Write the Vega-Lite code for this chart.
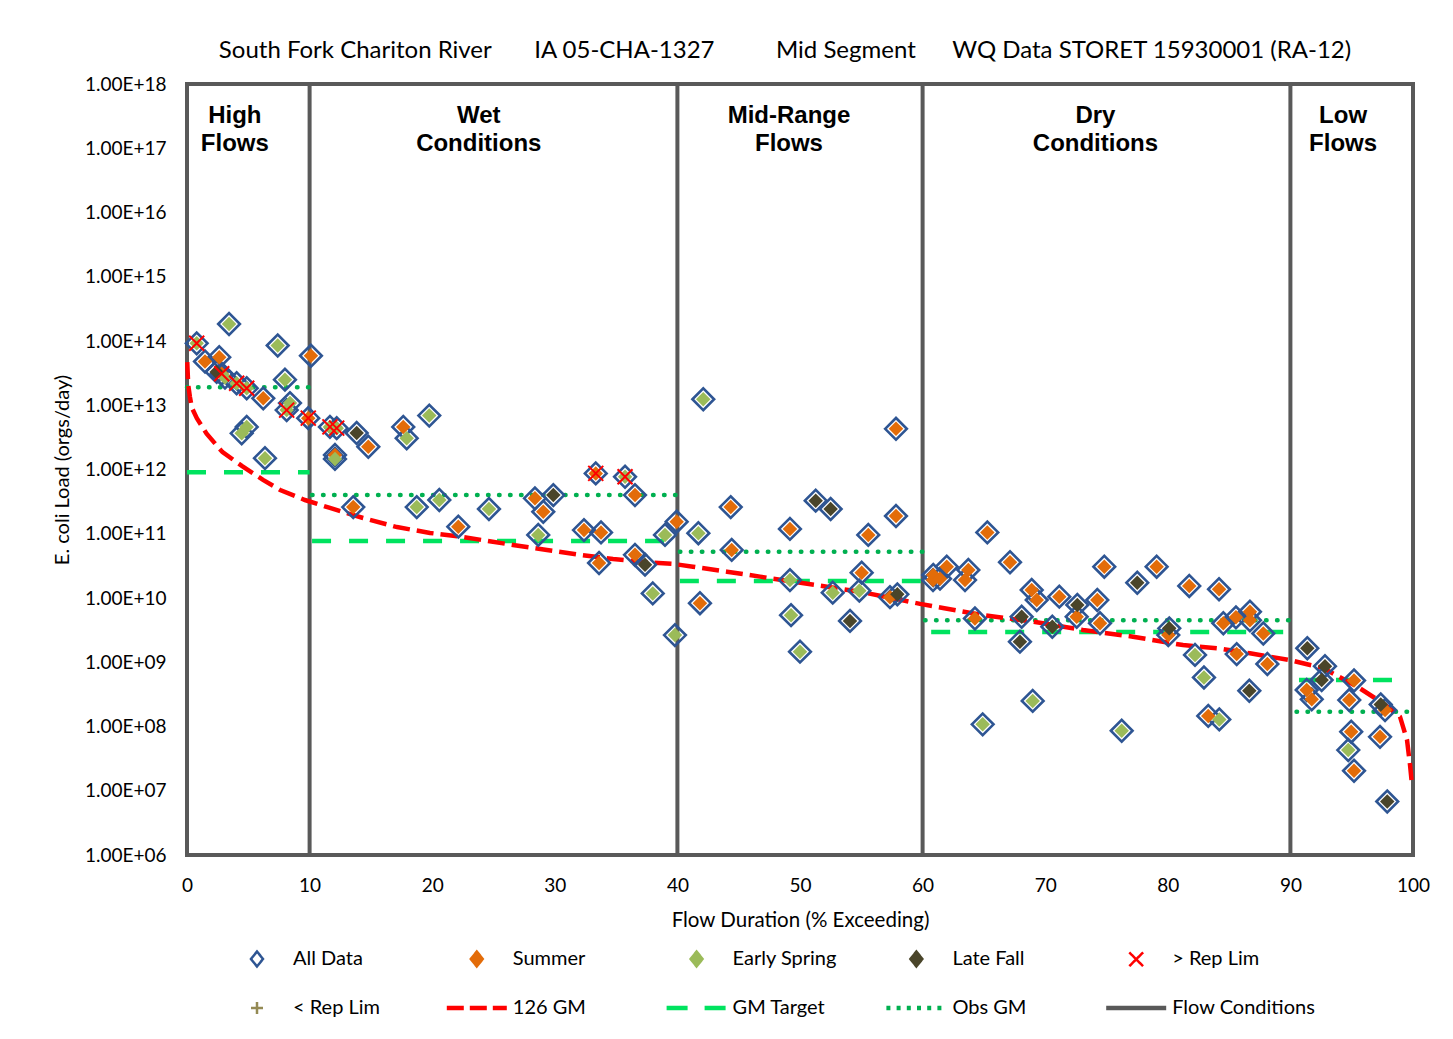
{
  "$schema": "https://vega.github.io/schema/vega-lite/v6.json",
  "width": 1226,
  "height": 771,
  "autosize": {"type": "none"},
  "padding": {"left": 187, "top": 84, "right": 40, "bottom": 184},
  "background": "white",
  "config": {
    "view": {"stroke": "#595959", "strokeWidth": 4},
    "font": "Lato"
  },
  "title": {
    "text": "South Fork Chariton River\u00a0\u00a0\u00a0\u00a0\u00a0\u00a0\u00a0IA 05-CHA-1327\u00a0\u00a0\u00a0\u00a0\u00a0\u00a0\u00a0\u00a0\u00a0\u00a0Mid Segment\u00a0\u00a0\u00a0\u00a0\u00a0\u00a0WQ Data STORET 15930001 (RA-12)",
    "font": "Lato",
    "fontSize": 24,
    "fontWeight": "normal",
    "color": "#000000",
    "anchor": "middle",
    "baseline": "alphabetic",
    "offset": 26,
    "dy": 33,
    "dx": -15
  },
  "datasets": {
    "points": [
      {"x": 0.79, "load": 9.2e13, "season": "Early Spring", "flag": "> Rep Lim"},
      {"x": 3.43, "load": 1.84e14, "season": "Early Spring", "flag": "none"},
      {"x": 1.47, "load": 4.8e13, "season": "Summer", "flag": "none"},
      {"x": 2.63, "load": 5.6e13, "season": "Summer", "flag": "none"},
      {"x": 2.42, "load": 3.3e13, "season": "Late Fall", "flag": "none"},
      {"x": 2.83, "load": 3.1e13, "season": "Summer", "flag": "> Rep Lim"},
      {"x": 3.10, "load": 2.7e13, "season": "Early Spring", "flag": "none"},
      {"x": 4.05, "load": 2.2e13, "season": "Early Spring", "flag": "> Rep Lim"},
      {"x": 4.87, "load": 1.84e13, "season": "Early Spring", "flag": "> Rep Lim"},
      {"x": 6.22, "load": 1.28e13, "season": "Summer", "flag": "none"},
      {"x": 7.40, "load": 8.5e13, "season": "Early Spring", "flag": "none"},
      {"x": 7.99, "load": 2.5e13, "season": "Early Spring", "flag": "none"},
      {"x": 8.13, "load": 8.4e12, "season": "Early Spring", "flag": "> Rep Lim"},
      {"x": 8.40, "load": 1.08e13, "season": "Early Spring", "flag": "none"},
      {"x": 4.46, "load": 3.66e12, "season": "Early Spring", "flag": "none"},
      {"x": 4.87, "load": 4.6e12, "season": "Early Spring", "flag": "none"},
      {"x": 6.36, "load": 1.5e12, "season": "Early Spring", "flag": "none"},
      {"x": 10.11, "load": 5.9e13, "season": "Summer", "flag": "none"},
      {"x": 9.89, "load": 6.3e12, "season": "Summer", "flag": "> Rep Lim"},
      {"x": 11.66, "load": 4.6e12, "season": "Early Spring", "flag": "> Rep Lim"},
      {"x": 12.21, "load": 4.4e12, "season": "Early Spring", "flag": "> Rep Lim"},
      {"x": 13.84, "load": 3.7e12, "season": "Late Fall", "flag": "none"},
      {"x": 14.79, "load": 2.26e12, "season": "Summer", "flag": "none"},
      {"x": 12.07, "load": 1.68e12, "season": "Summer", "flag": "none"},
      {"x": 12.07, "load": 1.46e12, "season": "Early Spring", "flag": "none"},
      {"x": 17.64, "load": 4.6e12, "season": "Summer", "flag": "none"},
      {"x": 17.92, "load": 3.06e12, "season": "Early Spring", "flag": "none"},
      {"x": 19.76, "load": 6.9e12, "season": "Early Spring", "flag": "none"},
      {"x": 13.56, "load": 2.6e11, "season": "Summer", "flag": "none"},
      {"x": 18.74, "load": 2.6e11, "season": "Early Spring", "flag": "none"},
      {"x": 20.58, "load": 3.35e11, "season": "Early Spring", "flag": "none"},
      {"x": 22.13, "load": 1.29e11, "season": "Summer", "flag": "none"},
      {"x": 24.63, "load": 2.43e11, "season": "Early Spring", "flag": "none"},
      {"x": 28.38, "load": 3.56e11, "season": "Summer", "flag": "none"},
      {"x": 29.88, "load": 4.0e11, "season": "Late Fall", "flag": "none"},
      {"x": 29.06, "load": 2.2e11, "season": "Summer", "flag": "none"},
      {"x": 28.65, "load": 9.6e10, "season": "Early Spring", "flag": "none"},
      {"x": 33.34, "load": 8.7e11, "season": "Summer", "flag": "> Rep Lim"},
      {"x": 35.73, "load": 7.7e11, "season": "Early Spring", "flag": "> Rep Lim"},
      {"x": 36.54, "load": 4.0e11, "season": "Summer", "flag": "none"},
      {"x": 32.38, "load": 1.14e11, "season": "Summer", "flag": "none"},
      {"x": 33.77, "load": 1.05e11, "season": "Summer", "flag": "none"},
      {"x": 33.61, "load": 3.5e10, "season": "Summer", "flag": "none"},
      {"x": 36.54, "load": 4.7e10, "season": "Summer", "flag": "none"},
      {"x": 37.36, "load": 3.3e10, "season": "Late Fall", "flag": "none"},
      {"x": 38.99, "load": 9.6e10, "season": "Early Spring", "flag": "none"},
      {"x": 39.94, "load": 1.54e11, "season": "Summer", "flag": "none"},
      {"x": 37.99, "load": 1.18e10, "season": "Early Spring", "flag": "none"},
      {"x": 39.80, "load": 2.65e9, "season": "Early Spring", "flag": "none"},
      {"x": 42.11, "load": 1.24e13, "season": "Early Spring", "flag": "none"},
      {"x": 41.71, "load": 1.02e11, "season": "Early Spring", "flag": "none"},
      {"x": 44.35, "load": 2.6e11, "season": "Summer", "flag": "none"},
      {"x": 44.43, "load": 5.6e10, "season": "Summer", "flag": "none"},
      {"x": 41.84, "load": 8.3e9, "season": "Summer", "flag": "none"},
      {"x": 49.18, "load": 1.19e11, "season": "Summer", "flag": "none"},
      {"x": 51.28, "load": 3.27e11, "season": "Late Fall", "flag": "none"},
      {"x": 52.50, "load": 2.43e11, "season": "Late Fall", "flag": "none"},
      {"x": 55.57, "load": 9.6e10, "season": "Summer", "flag": "none"},
      {"x": 57.83, "load": 4.3e12, "season": "Summer", "flag": "none"},
      {"x": 57.83, "load": 1.89e11, "season": "Summer", "flag": "none"},
      {"x": 49.18, "load": 1.9e10, "season": "Early Spring", "flag": "none"},
      {"x": 49.27, "load": 5.4e9, "season": "Early Spring", "flag": "none"},
      {"x": 50.0, "load": 1.46e9, "season": "Early Spring", "flag": "none"},
      {"x": 52.67, "load": 1.21e10, "season": "Early Spring", "flag": "none"},
      {"x": 54.84, "load": 1.3e10, "season": "Early Spring", "flag": "none"},
      {"x": 55.03, "load": 2.48e10, "season": "Summer", "flag": "none"},
      {"x": 54.08, "load": 4.4e9, "season": "Late Fall", "flag": "none"},
      {"x": 57.34, "load": 1.03e10, "season": "Summer", "flag": "none"},
      {"x": 57.94, "load": 1.14e10, "season": "Late Fall", "flag": "none"},
      {"x": 60.85, "load": 1.9e10, "season": "Summer", "flag": "none"},
      {"x": 65.28, "load": 1.05e11, "season": "Summer", "flag": "none"},
      {"x": 60.87, "load": 2.28e10, "season": "Summer", "flag": "none"},
      {"x": 61.97, "load": 3.07e10, "season": "Summer", "flag": "none"},
      {"x": 61.42, "load": 2.0e10, "season": "Summer", "flag": "none"},
      {"x": 63.73, "load": 2.73e10, "season": "Summer", "flag": "none"},
      {"x": 63.46, "load": 1.9e10, "season": "Summer", "flag": "none"},
      {"x": 67.13, "load": 3.6e10, "season": "Summer", "flag": "none"},
      {"x": 64.27, "load": 4.8e9, "season": "Summer", "flag": "none"},
      {"x": 68.90, "load": 1.33e10, "season": "Summer", "flag": "none"},
      {"x": 69.31, "load": 9.3e9, "season": "Summer", "flag": "none"},
      {"x": 68.08, "load": 5.1e9, "season": "Late Fall", "flag": "none"},
      {"x": 67.94, "load": 2.09e9, "season": "Late Fall", "flag": "none"},
      {"x": 71.15, "load": 1.05e10, "season": "Summer", "flag": "none"},
      {"x": 70.58, "load": 3.57e9, "season": "Late Fall", "flag": "none"},
      {"x": 72.62, "load": 7.8e9, "season": "Late Fall", "flag": "none"},
      {"x": 72.57, "load": 5.1e9, "season": "Summer", "flag": "none"},
      {"x": 74.25, "load": 9.3e9, "season": "Summer", "flag": "none"},
      {"x": 74.47, "load": 4.04e9, "season": "Summer", "flag": "none"},
      {"x": 74.82, "load": 3.07e10, "season": "Summer", "flag": "none"},
      {"x": 77.51, "load": 1.73e10, "season": "Late Fall", "flag": "none"},
      {"x": 79.09, "load": 3.07e10, "season": "Summer", "flag": "none"},
      {"x": 80.12, "load": 3.37e9, "season": "Late Fall", "flag": "none"},
      {"x": 80.04, "load": 2.65e9, "season": "Summer", "flag": "none"},
      {"x": 81.75, "load": 1.54e10, "season": "Summer", "flag": "none"},
      {"x": 64.90, "load": 1.08e8, "season": "Early Spring", "flag": "none"},
      {"x": 68.98, "load": 2.5e8, "season": "Early Spring", "flag": "none"},
      {"x": 76.24, "load": 8.6e7, "season": "Early Spring", "flag": "none"},
      {"x": 82.22, "load": 1.3e9, "season": "Early Spring", "flag": "none"},
      {"x": 84.18, "load": 1.37e10, "season": "Summer", "flag": "none"},
      {"x": 84.53, "load": 4.04e9, "season": "Summer", "flag": "none"},
      {"x": 85.56, "load": 5.0e9, "season": "Summer", "flag": "none"},
      {"x": 86.70, "load": 6.1e9, "season": "Summer", "flag": "none"},
      {"x": 86.70, "load": 4.5e9, "season": "Summer", "flag": "none"},
      {"x": 87.79, "load": 2.8e9, "season": "Summer", "flag": "none"},
      {"x": 82.95, "load": 5.8e8, "season": "Early Spring", "flag": "none"},
      {"x": 85.62, "load": 1.34e9, "season": "Summer", "flag": "none"},
      {"x": 88.12, "load": 9.4e8, "season": "Summer", "flag": "none"},
      {"x": 86.65, "load": 3.6e8, "season": "Late Fall", "flag": "none"},
      {"x": 83.30, "load": 1.46e8, "season": "Summer", "flag": "none"},
      {"x": 84.20, "load": 1.29e8, "season": "Early Spring", "flag": "none"},
      {"x": 91.38, "load": 1.65e9, "season": "Late Fall", "flag": "none"},
      {"x": 92.82, "load": 8.7e8, "season": "Late Fall", "flag": "none"},
      {"x": 92.55, "load": 5.3e8, "season": "Late Fall", "flag": "none"},
      {"x": 91.33, "load": 3.7e8, "season": "Summer", "flag": "none"},
      {"x": 91.74, "load": 2.65e8, "season": "Summer", "flag": "none"},
      {"x": 95.19, "load": 5.2e8, "season": "Summer", "flag": "none"},
      {"x": 94.80, "load": 2.58e8, "season": "Summer", "flag": "none"},
      {"x": 97.37, "load": 2.2e8, "season": "Late Fall", "flag": "none"},
      {"x": 97.72, "load": 1.8e8, "season": "Summer", "flag": "none"},
      {"x": 94.96, "load": 8.3e7, "season": "Summer", "flag": "none"},
      {"x": 94.72, "load": 4.3e7, "season": "Early Spring", "flag": "none"},
      {"x": 95.19, "load": 2.05e7, "season": "Summer", "flag": "none"},
      {"x": 97.31, "load": 6.9e7, "season": "Summer", "flag": "none"},
      {"x": 97.90, "load": 6.8e6, "season": "Late Fall", "flag": "none"}
    ],
    "lines": [
      {"series": "126 GM", "seg": "all", "x": 0.02, "load": 4.7e13},
      {"series": "126 GM", "seg": "all", "x": 0.1, "load": 2.07e13},
      {"series": "126 GM", "seg": "all", "x": 0.24, "load": 1.34e13},
      {"series": "126 GM", "seg": "all", "x": 0.4, "load": 9.1e12},
      {"series": "126 GM", "seg": "all", "x": 0.8, "load": 6.3e12},
      {"series": "126 GM", "seg": "all", "x": 1.6, "load": 3.6e12},
      {"series": "126 GM", "seg": "all", "x": 2.9, "load": 1.86e12},
      {"series": "126 GM", "seg": "all", "x": 4.5, "load": 1.13e12},
      {"series": "126 GM", "seg": "all", "x": 6.2, "load": 6.9e11},
      {"series": "126 GM", "seg": "all", "x": 7.6, "load": 4.8e11},
      {"series": "126 GM", "seg": "all", "x": 9.62, "load": 3.35e11},
      {"series": "126 GM", "seg": "all", "x": 11.66, "load": 2.52e11},
      {"series": "126 GM", "seg": "all", "x": 14.36, "load": 1.76e11},
      {"series": "126 GM", "seg": "all", "x": 17.13, "load": 1.27e11},
      {"series": "126 GM", "seg": "all", "x": 19.82, "load": 1.03e11},
      {"series": "126 GM", "seg": "all", "x": 22.51, "load": 8.9e10},
      {"series": "126 GM", "seg": "all", "x": 26.59, "load": 6.7e10},
      {"series": "126 GM", "seg": "all", "x": 29.36, "load": 5.6e10},
      {"series": "126 GM", "seg": "all", "x": 32.05, "load": 4.7e10},
      {"series": "126 GM", "seg": "all", "x": 34.75, "load": 4.05e10},
      {"series": "126 GM", "seg": "all", "x": 37.52, "load": 3.6e10},
      {"series": "126 GM", "seg": "all", "x": 39.64, "load": 3.4e10},
      {"series": "126 GM", "seg": "all", "x": 41.27, "load": 3.07e10},
      {"series": "126 GM", "seg": "all", "x": 44.05, "load": 2.57e10},
      {"series": "126 GM", "seg": "all", "x": 46.74, "load": 2.15e10},
      {"series": "126 GM", "seg": "all", "x": 49.43, "load": 1.79e10},
      {"series": "126 GM", "seg": "all", "x": 52.2, "load": 1.5e10},
      {"series": "126 GM", "seg": "all", "x": 54.89, "load": 1.25e10},
      {"series": "126 GM", "seg": "all", "x": 57.59, "load": 9.9e9},
      {"series": "126 GM", "seg": "all", "x": 59.79, "load": 8.1e9},
      {"series": "126 GM", "seg": "all", "x": 61.66, "load": 7.0e9},
      {"series": "126 GM", "seg": "all", "x": 64.93, "load": 5.4e9},
      {"series": "126 GM", "seg": "all", "x": 69.0, "load": 4.3e9},
      {"series": "126 GM", "seg": "all", "x": 73.08, "load": 3.18e9},
      {"series": "126 GM", "seg": "all", "x": 77.16, "load": 2.5e9},
      {"series": "126 GM", "seg": "all", "x": 81.24, "load": 1.85e9},
      {"series": "126 GM", "seg": "all", "x": 84.01, "load": 1.65e9},
      {"series": "126 GM", "seg": "all", "x": 86.7, "load": 1.38e9},
      {"series": "126 GM", "seg": "all", "x": 89.97, "load": 1.08e9},
      {"series": "126 GM", "seg": "all", "x": 92.66, "load": 8.1e8},
      {"series": "126 GM", "seg": "all", "x": 95.43, "load": 4.2e8},
      {"series": "126 GM", "seg": "all", "x": 97.55, "load": 2.3e8},
      {"series": "126 GM", "seg": "all", "x": 98.94, "load": 1.42e8},
      {"series": "126 GM", "seg": "all", "x": 99.51, "load": 6.2e7},
      {"series": "126 GM", "seg": "all", "x": 99.76, "load": 2.5e7},
      {"series": "126 GM", "seg": "all", "x": 99.92, "load": 1.23e7},
      {"series": "GM Target", "seg": "High", "x": 0, "load": 9.1e11},
      {"series": "GM Target", "seg": "High", "x": 10, "load": 9.1e11},
      {"series": "GM Target", "seg": "Wet", "x": 10.2, "load": 7.7e10},
      {"series": "GM Target", "seg": "Wet", "x": 40, "load": 7.7e10},
      {"series": "GM Target", "seg": "Mid", "x": 40.2, "load": 1.84e10},
      {"series": "GM Target", "seg": "Mid", "x": 60, "load": 1.84e10},
      {"series": "GM Target", "seg": "Dry", "x": 60.7, "load": 2.96e9},
      {"series": "GM Target", "seg": "Dry", "x": 90, "load": 2.96e9},
      {"series": "GM Target", "seg": "Low", "x": 90.7, "load": 5.3e8},
      {"series": "GM Target", "seg": "Low", "x": 99.5, "load": 5.3e8},
      {"series": "Obs GM", "seg": "High", "x": 0, "load": 1.9e13},
      {"series": "Obs GM", "seg": "High", "x": 10, "load": 1.9e13},
      {"series": "Obs GM", "seg": "Wet", "x": 10.2, "load": 4.0e11},
      {"series": "Obs GM", "seg": "Wet", "x": 40, "load": 4.0e11},
      {"series": "Obs GM", "seg": "Mid", "x": 40.2, "load": 5.26e10},
      {"series": "Obs GM", "seg": "Mid", "x": 60, "load": 5.26e10},
      {"series": "Obs GM", "seg": "Dry", "x": 60.2, "load": 4.5e9},
      {"series": "Obs GM", "seg": "Dry", "x": 90, "load": 4.5e9},
      {"series": "Obs GM", "seg": "Low", "x": 90.5, "load": 1.7e8},
      {"series": "Obs GM", "seg": "Low", "x": 99.6, "load": 1.7e8}
    ],
    "flow": [{"x": 10}, {"x": 40}, {"x": 60}, {"x": 90}],
    "zones": [
      {"zone": "High\nFlows", "x": 3.9},
      {"zone": "Wet\nConditions", "x": 23.8},
      {"zone": "Mid-Range\nFlows", "x": 49.1},
      {"zone": "Dry\nConditions", "x": 74.1},
      {"zone": "Low\nFlows", "x": 94.3}
    ]
  },
  "layer": [
    {
      "data": {"name": "flow"},
      "mark": {"type": "rule", "stroke": "#595959", "strokeWidth": 4},
      "encoding": {
        "x": {
          "field": "x", "type": "quantitative",
          "scale": {"domain": [0, 100], "nice": false, "zero": false},
          "axis": {
            "values": [0, 10, 20, 30, 40, 50, 60, 70, 80, 90, 100],
            "title": "Flow Duration (% Exceeding)",
            "titleFont": "Lato", "titleFontSize": 20.5, "titleFontWeight": "normal", "titleColor": "#000000",
            "titlePadding": 15,
            "labelFont": "Lato", "labelFontSize": 19, "labelColor": "#000000",
            "labelPadding": 21, "ticks": false, "tickSize": 0, "domain": false, "grid": false,
            "labelFlush": false, "labelOverlap": false
          }
        }
      }
    },
    {
      "data": {"name": "lines"},
      "transform": [{"filter": "datum.series === 'GM Target'"}],
      "mark": {"type": "line", "stroke": "#00E35F", "strokeWidth": 4.5, "strokeDash": [19, 18]},
      "encoding": {
        "x": {"field": "x", "type": "quantitative"},
        "y": {
          "field": "load", "type": "quantitative",
          "scale": {"type": "log", "domain": [1e6, 1e18], "nice": false},
          "axis": {
            "values": [1e6, 1e7, 1e8, 1e9, 1e10, 1e11, 1e12, 1e13, 1e14, 1e15, 1e16, 1e17, 1e18],
            "labelExpr": "'1.00E+' + (round(log(datum.value)/LN10) < 10 ? '0' : '') + round(log(datum.value)/LN10)",
            "title": "E. coli Load (orgs/day)",
            "titleFont": "Lato", "titleFontSize": 20, "titleFontWeight": "normal", "titleColor": "#000000",
            "titleX": -125, "titleY": 385.5, "titleAngle": -90, "titleAlign": "center", "titleBaseline": "middle",
            "labelFont": "Lato", "labelFontSize": 19, "labelColor": "#000000",
            "labelPadding": 21, "ticks": false, "tickSize": 0, "domain": false, "grid": false,
            "labelFlush": false, "labelOverlap": false
          }
        },
        "detail": {"field": "seg"}
      }
    },
    {
      "data": {"name": "lines"},
      "transform": [{"filter": "datum.series === 'Obs GM'"}],
      "mark": {"type": "line", "stroke": "#00B050", "strokeWidth": 4.5, "strokeDash": [0.5, 10.5], "strokeCap": "round"},
      "encoding": {
        "x": {"field": "x", "type": "quantitative"},
        "y": {"field": "load", "type": "quantitative"},
        "detail": {"field": "seg"}
      }
    },
    {
      "data": {"name": "lines"},
      "transform": [{"filter": "datum.series === '126 GM'"}],
      "mark": {"type": "line", "stroke": "#FF0000", "strokeWidth": 4.5, "strokeDash": [17, 7]},
      "encoding": {
        "x": {"field": "x", "type": "quantitative"},
        "y": {"field": "load", "type": "quantitative"},
        "detail": {"field": "seg"}
      }
    },
    {
      "data": {"name": "points"},
      "mark": {"type": "point", "shape": "diamond", "filled": false, "size": 470, "stroke": "#2E5593", "strokeWidth": 2.6, "opacity": 1},
      "encoding": {
        "x": {"field": "x", "type": "quantitative"},
        "y": {"field": "load", "type": "quantitative"}
      }
    },
    {
      "data": {"name": "points"},
      "transform": [{"filter": "datum.season === 'Summer'"}],
      "mark": {"type": "point", "shape": "diamond", "filled": true, "size": 210, "opacity": 1, "strokeWidth": 0, "color": "#E36C09"},
      "encoding": {
        "x": {"field": "x", "type": "quantitative"},
        "y": {"field": "load", "type": "quantitative"}
      }
    },
    {
      "data": {"name": "points"},
      "transform": [{"filter": "datum.season === 'Early Spring'"}],
      "mark": {"type": "point", "shape": "diamond", "filled": true, "size": 210, "opacity": 1, "strokeWidth": 0, "color": "#9BBB59"},
      "encoding": {
        "x": {"field": "x", "type": "quantitative"},
        "y": {"field": "load", "type": "quantitative"}
      }
    },
    {
      "data": {"name": "points"},
      "transform": [{"filter": "datum.season === 'Late Fall'"}],
      "mark": {"type": "point", "shape": "diamond", "filled": true, "size": 210, "opacity": 1, "strokeWidth": 0, "color": "#4A452A"},
      "encoding": {
        "x": {"field": "x", "type": "quantitative"},
        "y": {"field": "load", "type": "quantitative"}
      }
    },
    {
      "data": {"name": "points"},
      "transform": [{"filter": "datum.flag === '> Rep Lim'"}],
      "mark": {"type": "point", "shape": "M-1,-1L1,1M-1,1L1,-1", "filled": false, "size": 225, "stroke": "#FF0000", "strokeWidth": 2, "opacity": 1},
      "encoding": {
        "x": {"field": "x", "type": "quantitative"},
        "y": {"field": "load", "type": "quantitative"}
      }
    },
    {
      "data": {"name": "zones"},
      "mark": {"type": "text", "font": "Liberation Sans", "fontWeight": "bold", "fontSize": 24, "lineBreak": "\n", "lineHeight": 28, "align": "center", "baseline": "middle", "color": "#000000"},
      "encoding": {
        "x": {"field": "x", "type": "quantitative"},
        "y": {"datum": 3.18e17, "type": "quantitative"},
        "text": {"field": "zone"}
      }
    },
    {
      "data": {"name": "points"},
      "transform": [{"filter": "datum.x < 0"}],
      "mark": {"type": "point", "filled": false, "opacity": 1, "strokeWidth": 2.5},
      "encoding": {
        "x": {"field": "x", "type": "quantitative"},
        "y": {"field": "load", "type": "quantitative"},
        "color": {
          "field": "season", "type": "nominal",
          "scale": {
            "domain": ["All Data", "Summer", "Early Spring", "Late Fall", "> Rep Lim", "< Rep Lim", "126 GM", "GM Target", "Obs GM", "Flow Conditions"],
            "range": ["#2E5593", "#E36C09", "#9BBB59", "#4A452A", "#FF0000", "#948A54", "#FF0000", "#00E35F", "#00B050", "#595959"]
          },
          "legend": {
            "title": null, "orient": "none", "legendX": 38.5, "legendY": 843.5, "direction": "horizontal",
            "columns": 5, "gridAlign": "all", "columnPadding": 4.8, "rowPadding": 5,
            "symbolSize": 3600, "symbolStrokeWidth": 2.5, "symbolOpacity": 1,
            "labelFont": "Lato", "labelFontSize": 20, "labelColor": "#000000", "labelOffset": 4.5
          }
        },
        "shape": {
          "field": "season", "type": "nominal",
          "scale": {
            "domain": ["All Data", "Summer", "Early Spring", "Late Fall", "> Rep Lim", "< Rep Lim", "126 GM", "GM Target", "Obs GM", "Flow Conditions"],
            "range": [
              "M0,-0.25L0.2,0L0,0.25L-0.2,0Z",
              "M0,-0.25L0.2,0L0,0.25L-0.2,0ZM0,-0.18L0.144,0L0,0.18L-0.144,0ZM0,-0.11L0.088,0L0,0.11L-0.088,0ZM0,-0.04L0.032,0L0,0.04L-0.032,0Z",
              "M0,-0.25L0.2,0L0,0.25L-0.2,0ZM0,-0.18L0.144,0L0,0.18L-0.144,0ZM0,-0.11L0.088,0L0,0.11L-0.088,0ZM0,-0.04L0.032,0L0,0.04L-0.032,0Z",
              "M0,-0.25L0.2,0L0,0.25L-0.2,0ZM0,-0.18L0.144,0L0,0.18L-0.144,0ZM0,-0.11L0.088,0L0,0.11L-0.088,0ZM0,-0.04L0.032,0L0,0.04L-0.032,0Z",
              "M-0.23,-0.23L0.23,0.23M-0.23,0.23L0.23,-0.23",
              "M0,-0.2L0,0.2M-0.2,0L0.2,0",
              "M-1,-0.03L1,-0.03M-1,0.03L1,0.03",
              "M-1,-0.03L1,-0.03M-1,0.03L1,0.03",
              "M-1,-0.03L1,-0.03M-1,0.03L1,0.03",
              "M-1,-0.03L1,-0.03M-1,0.03L1,0.03"
            ]
          },
          "legend": {
            "title": null, "orient": "none", "legendX": 38.5, "legendY": 843.5, "direction": "horizontal",
            "columns": 5, "gridAlign": "all", "columnPadding": 4.8, "rowPadding": 5,
            "symbolSize": 3600, "symbolStrokeWidth": 2.5, "symbolOpacity": 1,
            "labelFont": "Lato", "labelFontSize": 20, "labelColor": "#000000", "labelOffset": 4.5
          }
        },
        "strokeDash": {
          "field": "season", "type": "nominal",
          "scale": {
            "domain": ["All Data", "Summer", "Early Spring", "Late Fall", "> Rep Lim", "< Rep Lim", "126 GM", "GM Target", "Obs GM", "Flow Conditions"],
            "range": [[1, 0], [1, 0], [1, 0], [1, 0], [1, 0], [1, 0], [17, 6], [21, 17], [4, 6.2], [1, 0]]
          },
          "legend": {
            "title": null, "orient": "none", "legendX": 38.5, "legendY": 843.5, "direction": "horizontal",
            "columns": 5, "gridAlign": "all", "columnPadding": 4.8, "rowPadding": 5,
            "symbolSize": 3600, "symbolStrokeWidth": 2.5, "symbolOpacity": 1,
            "labelFont": "Lato", "labelFontSize": 20, "labelColor": "#000000", "labelOffset": 4.5
          }
        }
      }
    }
  ]
}
